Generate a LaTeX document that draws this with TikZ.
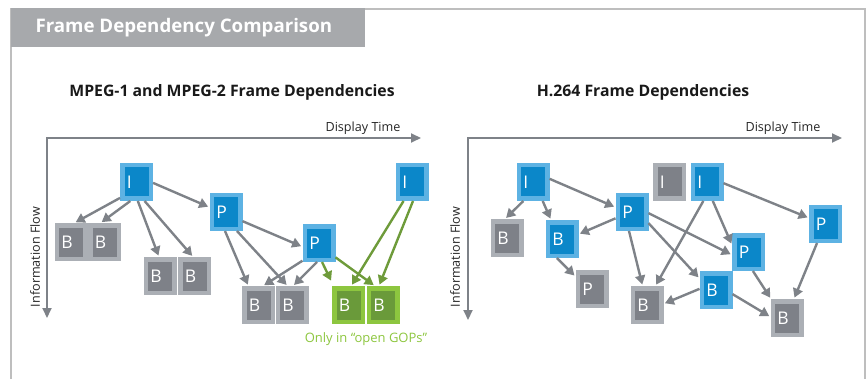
\documentclass[tikz,border=0pt]{standalone}
\usepackage{fontspec}
\setmainfont{Open Sans}
\usetikzlibrary{arrows.meta}

\definecolor{blueout}{HTML}{5DB2E3}
\definecolor{bluein}{HTML}{0B87C9}
\definecolor{grayout}{HTML}{ABAFB5}
\definecolor{grayin}{HTML}{7E8188}
\definecolor{greenout}{HTML}{8DC63F}
\definecolor{greenin}{HTML}{6A9A3A}
\definecolor{arrowgray}{HTML}{7E8288}
\definecolor{arrowgreen}{HTML}{6E9B3A}
\definecolor{titlegray}{HTML}{A7A9AC}
\definecolor{framegray}{HTML}{BEBEBE}
\definecolor{notegreen}{HTML}{8DC63F}

\begin{document}
\begin{tikzpicture}[
  x=1pt, y=-1pt,
  frame/.style={rectangle, draw, line width=4.5pt, minimum width=28.5pt, minimum height=33.5pt, inner xsep=4.5pt, inner ysep=0pt, outer sep=2.25pt, text width=19.5pt, align=left, text=white, font=\fontsize{17.5}{17.5}\selectfont},
  blueframe/.style={frame, draw=blueout, fill=bluein},
  grayframe/.style={frame, draw=grayout, fill=grayin},
  greenframe/.style={frame, draw=greenout, fill=greenin},
  dep/.style={-{Triangle[length=9pt,width=10pt]}, line width=2.4pt, draw=arrowgray, shorten >=1.5pt},
  gdep/.style={dep, draw=arrowgreen},
  axis/.style={{Triangle[length=10pt,width=9pt]}-{Triangle[length=10pt,width=9pt]}, line width=2pt, draw=arrowgray},
  axislabel/.style={font=\fontsize{12.6}{12.6}\selectfont, text=black!85},
  heading/.style={font=\fontsize{15.8}{15.8}\selectfont\bfseries, text=black!90}
]
\useasboundingbox (0,0) rectangle (866,379);

% Frame and title bar
\draw[framegray, line width=1.5pt] (11,379) -- (11,9) -- (865,9) -- (865,379);
\fill[titlegray] (11,8.25) rectangle (365,47);
\node[anchor=west, text=white, font=\fontsize{18.7}{18.7}\selectfont\bfseries] (title) at (32,28) {Frame Dependency Comparison};

% Headings
\node[heading] (mhead) at (232,92) {MPEG-1 and MPEG-2 Frame Dependencies};
\node[heading] (hhead) at (643,92) {H.264 Frame Dependencies};

% Axes
\coordinate (mdown) at (47,318);
\coordinate (mright) at (421,138);
\draw[axis] (mdown) |- (mright);
\node[axislabel, anchor=base east] (mtime) at (404,132) {Display Time};
\node[axislabel, rotate=90] (mflow) at (35,257) {Information Flow};

\coordinate (hdown) at (468,320);
\coordinate (hright) at (842,138);
\draw[axis] (hdown) |- (hright);
\node[axislabel, anchor=base east] (htime) at (824,132) {Display Time};
\node[axislabel, rotate=90] (hflow) at (455,257) {Information Flow};

% MPEG frames
\node[blueframe] (mi1) at (136.5,182) {I};
\node[blueframe] (mp1) at (226,212) {P};
\node[blueframe] (mp2) at (319,243) {P};
\node[blueframe] (mi2) at (412,182) {I};
\node[grayframe] (mb1) at (71,242) {B};
\node[grayframe] (mb2) at (104.5,242) {B};
\node[grayframe] (mb3) at (160,276) {B};
\node[grayframe] (mb4) at (194.5,276) {B};
\node[grayframe] (mb5) at (258.5,305) {B};
\node[grayframe] (mb6) at (292,305) {B};
\node[greenframe] (mg1) at (348.5,305) {B};
\node[greenframe] (mg2) at (383,305) {B};
\node[text=notegreen, font=\fontsize{13}{13}\selectfont] (mnote) at (366,339) {Only in “open GOPs”};

% MPEG dependencies
\draw[dep] (mi1.-136) -- (mb1.80);
\draw[dep] (mi1.-108) -- (mb2.102);
\draw[dep] (mi1.-86) -- (mb3.93);
\draw[dep] (mi1.-67) -- (mb4.94);
\draw[dep] (mi1.-3) -- (mp1.164);
\draw[dep] (mp1.-29) -- (mp2.193);
\draw[dep] (mp1.-93) -- (mb5.118);
\draw[dep] (mp1.-60) -- (mb6.103);
\draw[dep] (mp2.-133) -- (mb5.77);
\draw[dep] (mp2.-96) -- (mb6.87);
\draw[gdep, shorten >=6pt] (mp2.-81) -- (mg1.128);
\draw[gdep] (mp2.-41) -- (mg2.113);
\draw[gdep] (mi2.-114) -- (mg1.82);
\draw[gdep] (mi2.-87) -- (mg2.102);

% H.264 frames
\node[blueframe] (hi1) at (533,182) {I};
\node[grayframe] (hig) at (669.5,182) {I};
\node[blueframe] (hi2) at (707,182) {I};
\node[blueframe] (hp1) at (632,212) {P};
\node[blueframe] (hp4) at (825.5,224) {P};
\node[grayframe] (hb1) at (507,238) {B};
\node[blueframe] (hb2) at (562,239) {B};
\node[grayframe] (hp2) at (592,289) {P};
\node[blueframe] (hp3) at (748.5,252) {P};
\node[blueframe] (hb3) at (716,290) {B};
\node[grayframe] (hb4) at (647,305) {B};
\node[grayframe] (hb5) at (787,318) {B};

% H.264 dependencies
\draw[dep] (hi1.-117) -- (hb1.96);
\draw[dep] (hi1.-63) -- (hb2.120);
\draw[dep] (hi1.11) -- (hp1.164);
\draw[dep] (hp1.201) -- (hb2.16);
\draw[dep] (hb2.-105) -- (hp2.143);
\draw[dep] (hp1.-99) -- (hb4.103);
\draw[dep] (hp1.-34) -- (hb3.145);
\draw[dep] (hp1.-4) -- (hp3.190);
\draw[dep] (hi2.-101) -- (hb4.66);
\draw[dep] (hi2.-73) -- (hp3.157);
\draw[dep] (hi2.-4) -- (hp4.160);
\draw[dep] (hb3.176) -- (hb4.4);
\draw[dep] (hb3.-14) -- (hb5.176);
\draw[dep] (hp3.-77) -- (hb5.130);
\draw[dep] (hp4.-114) -- (hb5.70);

\end{tikzpicture}
\end{document}
